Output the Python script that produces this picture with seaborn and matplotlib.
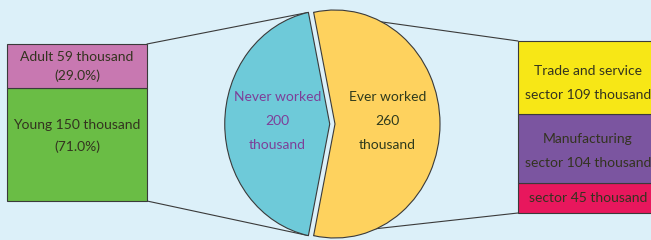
import numpy as np
import seaborn as sns
import matplotlib.pyplot as plt
from matplotlib.patches import ConnectionPatch

# Data (thousand persons)
work_labels = ["Never worked", "Ever worked"]
work_values = [200, 260]

age_labels = ["Young", "Adult"]
age_values = [150, 59]
age_pct = [71.0, 29.0]

sector_labels = ["", "Manufacturing", "Trade and service"]
sector_values = [45, 104, 109]

# Style
bg = "#dcf0f9"
edge = "#3a3a3a"
age_colors = ["#6abd45", "#c878b1"]
work_colors = ["#6ecad9", "#fed25e"]
sector_colors = ["#e8175d", "#7b55a0", "#f7e716"]
txt = "#33331f"

sns.set_theme(style="white")
plt.rcParams['font.family'] = ['Lato', 'DejaVu Sans']

fig = plt.figure(figsize=(6.51, 2.40), dpi=100, facecolor=bg)
W, H = 651, 240
ax_l = fig.add_axes([7 / W, 1 - 201 / H, 140 / W, 157 / H])
ax_p = fig.add_axes([209 / W, 1 - 243.7 / H, 252 / W, 239.4 / H])
ax_r = fig.add_axes([518 / W, 1 - 213 / H, 140 / W, 172 / H])
for ax in (ax_l, ax_p, ax_r):
    ax.set_facecolor("none")


def stacked(ax, values, colors):
    bottom = 0
    for v, c in zip(values, colors):
        sns.barplot(x=[""], y=[v], bottom=bottom, color=c, saturation=1, width=1,
                    errorbar=None, edgecolor=edge, linewidth=0.8, ax=ax)
        bottom += v
    ax.set_xlim(-0.5, 0.5)
    ax.set_ylim(0, sum(values))
    for p in ax.patches:
        p.set_clip_on(False)
    ax.axis("off")


# left bar: age groups of never worked
stacked(ax_l, age_values, age_colors)
ax_l.annotate(f"{age_labels[0]} {age_values[0]} thousand\n({age_pct[0]:.1f}%)",
              (0, age_values[0] / 2), xytext=(0, 6), textcoords="offset points",
              ha="center", va="center", fontsize=10, color=txt, linespacing=1.9)
ax_l.annotate(f"{age_labels[1]} {age_values[1]} thousand\n({age_pct[1]:.1f}%)",
              (0, age_values[0] + age_values[1] / 2), xytext=(0, 0),
              textcoords="offset points",
              ha="center", va="center", fontsize=10, color=txt, linespacing=1.6)

# right bar: sectors of ever worked
stacked(ax_r, sector_values, sector_colors)
b = 0
shifts = [0, -2, -4]
for name, v, dy in zip(sector_labels, sector_values, shifts):
    label = f"{name}\nsector {v} thousand" if name else f"sector {v} thousand"
    ax_r.annotate(label, (0, b + v / 2), xytext=(0, dy),
                  textcoords="offset points", ha="center", va="center",
                  fontsize=10, color=txt, linespacing=2.2)
    b += v

# pie
start = 180 - 360 * work_values[0] / sum(work_values) / 2
wedges, _ = ax_p.pie(work_values, colors=work_colors, explode=[0.05, 0],
                     startangle=start,
                     wedgeprops=dict(edgecolor=edge, linewidth=0.8))
ax_p.set_aspect("auto")
ax_p.set_xlim(-1.2, 1.2)
ax_p.set_ylim(-1.05, 1.05)
pie_txt = ["#7d3f98", "#2e3a1c"]
for w, lab, v, c in zip(wedges, work_labels, work_values, pie_txt):
    mid = np.radians((w.theta1 + w.theta2) / 2)
    cx, cy = w.center
    ax_p.text(cx + 0.5 * np.cos(mid), cy + 0.03, f"{lab}\n{v}\nthousand",
              ha="center", va="center", fontsize=10, color=c, linespacing=2.2)


def rim(w, ang):
    cx, cy = w.center
    a = np.radians(ang)
    return cx + w.r * np.cos(a), cy + w.r * np.sin(a)


links = [
    (ax_l, (0.5, sum(age_values)), rim(wedges[0], wedges[0].theta1)),
    (ax_l, (0.5, 0), rim(wedges[0], wedges[0].theta2)),
    (ax_r, (-0.5, sum(sector_values)), rim(wedges[1], wedges[1].theta2)),
    (ax_r, (-0.5, 0), rim(wedges[1], wedges[1].theta1)),
]
for ax, a, p in links:
    con = ConnectionPatch(xyA=a, coordsA=ax.transData, xyB=p, coordsB=ax_p.transData,
                          color=edge, linewidth=0.8, zorder=-1)
    fig.add_artist(con)

fig.savefig("out.png", dpi=100, facecolor=bg)
